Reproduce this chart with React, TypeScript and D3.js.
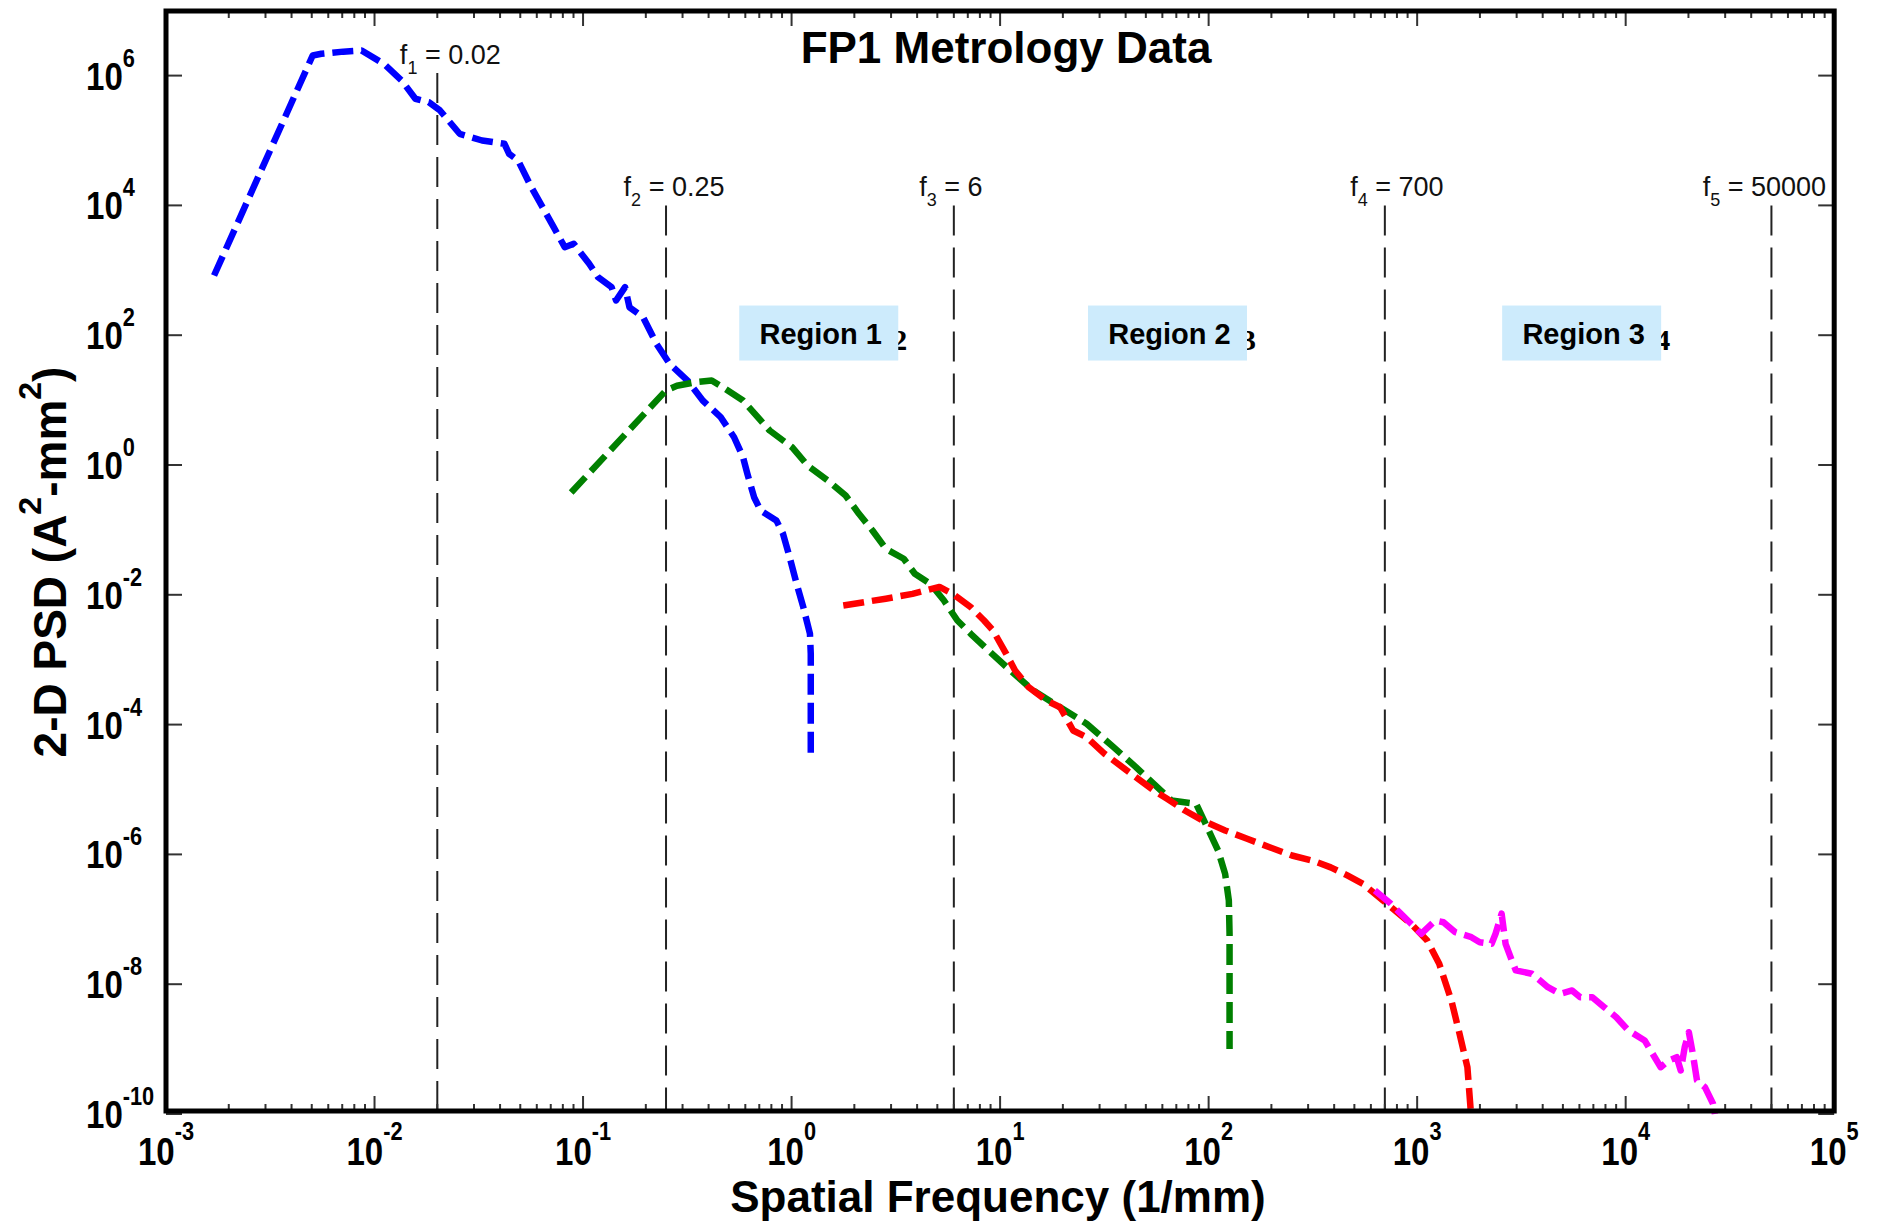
import React from 'react';
import * as d3 from 'd3';

const W = 1881;
const H = 1221;

// ---- axis ticks ----
const xTickValues = [1e-3, 1e-2, 1e-1, 1e0, 1e1, 1e2, 1e3, 1e4, 1e5];
const xTickExponents = ['-3', '-2', '-1', '0', '1', '2', '3', '4', '5'];
const yTickValues = [1e-10, 1e-8, 1e-6, 1e-4, 1e-2, 1e0, 1e2, 1e4, 1e6];
const yTickExponents = ['-10', '-8', '-6', '-4', '-2', '0', '2', '4', '6'];

// ---- series (spatial frequency 1/mm, PSD A^2-mm^2) ----
const blueFreq = [0.0017, 0.00505, 0.00556, 0.00708, 0.00867, 0.0111, 0.0135, 0.0157, 0.0182, 0.0206, 0.0256, 0.0328, 0.042, 0.0442, 0.0488, 0.0565, 0.0723, 0.0817, 0.0902, 0.107, 0.118, 0.137, 0.144, 0.159, 0.167, 0.194, 0.225, 0.26, 0.317, 0.375, 0.457, 0.53, 0.585, 0.614, 0.661, 0.711, 0.845, 0.91, 0.979, 1.057, 1.138, 1.225, 1.236, 1.236];
const bluePsd = [832, 2.04e6, 2.17e6, 2.34e6, 2.44e6, 1.51e6, 8.41e5, 4.4e5, 3.89e5, 2.9e5, 1.27e5, 1.0e5, 8.9e4, 6.24e4, 4.92e4, 1.91e4, 4620, 2270, 2560, 1260, 783, 550, 343, 550, 269, 189, 73.6, 36.3, 20, 9.86, 5.46, 2.68, 1.32, 0.731, 0.319, 0.199, 0.14, 0.0871, 0.0379, 0.0148, 0.00646, 0.00251, 0.00123, 3.55e-5];

const greenFreq = [0.0877, 0.25, 0.282, 0.348, 0.414, 0.468, 0.585, 0.785, 1.005, 1.194, 1.493, 1.816, 2.104, 2.443, 2.831, 3.451, 3.9, 4.63, 5.38, 6.24, 7.23, 8.79, 11.2, 14.4, 19.4, 26.0, 35.0, 44.8, 66.4, 87.1, 98.4, 111, 120, 125, 126, 126];
const greenPsd = [0.377, 14.1, 16.6, 18.9, 20, 15.8, 9.86, 3.4, 1.88, 0.982, 0.577, 0.339, 0.177, 0.098, 0.0512, 0.0359, 0.0211, 0.0148, 0.00817, 0.00402, 0.00251, 0.00139, 6.82e-4, 3.36e-4, 1.85e-4, 1.03e-4, 4.49e-5, 2.21e-5, 6.76e-6, 6.03e-6, 2.63e-6, 1.15e-6, 5.01e-7, 1.95e-7, 6.03e-8, 1.0e-9];

const redFreq = [1.77, 2.83, 3.8, 5.12, 5.93, 7.23, 8.38, 9.25, 10.7, 11.8, 13.7, 16.7, 19.4, 22.4, 26.0, 31.7, 40.6, 54.6, 63.2, 76.9, 93.5, 120, 153, 196, 251, 320, 385, 460, 550, 686, 935, 1117, 1276, 1459, 1596, 1742, 1807];
const redPsd = [0.00684, 0.00871, 0.01035, 0.0132, 0.01035, 0.00646, 0.00402, 0.00282, 0.00123, 6.82e-4, 3.77e-4, 2.35e-4, 1.85e-4, 8.11e-5, 6.4e-5, 3.55e-5, 1.96e-5, 9.66e-6, 7.19e-6, 4.75e-6, 3.33e-6, 2.34e-6, 1.74e-6, 1.29e-6, 9.62e-7, 7.9e-7, 6.31e-7, 4.8e-7, 3.52e-7, 1.95e-7, 8.51e-8, 4.71e-8, 2.06e-8, 5.62e-9, 1.74e-9, 5.25e-10, 1.12e-10];

const magentaFreq = [627, 748, 935, 1045, 1222, 1337, 1524, 1820, 1995, 2275, 2377, 2541, 2655, 2844, 2972, 3548, 3882, 4236, 4842, 5534, 6053, 6918, 7889, 9016, 10300, 12330, 13460, 14720, 16070, 17580, 18370, 19190, 20090, 20990, 21980, 23990, 26240, 26790];
const magentaPsd = [2.78e-7, 1.73e-7, 8.53e-8, 5.98e-8, 9.59e-8, 9.02e-8, 6.32e-8, 5.3e-8, 4.44e-8, 4.19e-8, 5.98e-8, 1.22e-7, 4.19e-8, 2.32e-8, 1.63e-8, 1.45e-8, 1.14e-8, 8.99e-9, 7.11e-9, 8.0e-9, 6.31e-9, 6.31e-9, 4.43e-9, 3.1e-9, 1.94e-9, 1.36e-9, 8.47e-10, 5.26e-10, 6.67e-10, 7.5e-10, 4.68e-10, 1.07e-9, 1.82e-9, 8.47e-10, 3.28e-10, 2.59e-10, 1.44e-10, 1.0e-10];

// ---- cutoff frequency markers ----
const cutoffFreq = [0.02, 0.25, 6, 700, 50000];
const cutoffIndex = ['1', '2', '3', '4', '5'];
const cutoffText = ['0.02', '0.25', '6', '700', '50000'];
const cutoffTop = [1.1e6, 1e4, 1e4, 1e4, 1e4];

// ---- region annotations ----
const regionNames = ['Region 1', 'Region 2', 'Region 3'];
const regionHidden = ['2', '3', '4'];
const regionFreq = [1.35, 63.5, 6150];
const regionPsd = [108, 108, 108];

const FONT = '"Liberation Sans", Arial, Helvetica, sans-serif';
const LABEL_SHIFT = [13, 8, -3, 12, -7];

export default function App() {
  const x = d3.scaleLog().domain([1e-3, 1e5]).range([166, 1834.2]);
  const y = d3.scaleLog().domain([1e-10, 1e7]).range([1114, 10.7]);

  const left = x(1e-3);
  const right = x(1e5);
  const top = 11;
  const bottom = 1111;

  const line = d3
    .line<[number, number]>()
    .x((d) => x(d[0]))
    .y((d) => y(d[1]));

  const series = [
    { f: blueFreq, p: bluePsd, color: '#0000ff' },
    { f: greenFreq, p: greenPsd, color: '#008000' },
    { f: redFreq, p: redPsd, color: '#ff0000' },
    { f: magentaFreq, p: magentaPsd, color: '#ff00ff' },
  ];

  const minorTicks: number[] = [];
  for (let e = -3; e < 5; e++) {
    for (let k = 2; k <= 9; k++) minorTicks.push(k * Math.pow(10, e));
  }

  const boxW = 159;
  const boxH = 55;

  return (
    <svg
      width={W}
      height={H}
      style={{ position: 'absolute', left: 0, top: 0, background: '#fff' }}
      fontFamily={FONT}
    >
      <rect x={0} y={0} width={W} height={H} fill="#fff" />

      {/* cutoff dashed lines */}
      {cutoffFreq.map((f, i) => (
        <line
          key={'cl' + i}
          x1={x(f)}
          x2={x(f)}
          y1={y(cutoffTop[i])}
          y2={bottom}
          stroke="#222"
          strokeWidth={2}
          strokeDasharray="30,12"
        />
      ))}
      {cutoffFreq.map((f, i) => (
        <text
          key={'ct' + i}
          x={x(f) + LABEL_SHIFT[i]}
          y={y(cutoffTop[i]) - 9}
          fontSize={27}
          textAnchor="middle"
          fill="#111"
        >
          f
          <tspan fontSize={18} dy={10}>
            {cutoffIndex[i]}
          </tspan>
          <tspan dy={-10}>{' = ' + cutoffText[i]}</tspan>
        </text>
      ))}

      {/* region boxes */}
      {regionNames.map((name, i) => {
        const cx = x(regionFreq[i]);
        const cy = y(regionPsd[i]);
        return (
          <g key={'rg' + i}>
            <text
              x={cx + boxW / 2 - 6}
              y={cy + 17}
              fontSize={30}
              fontWeight="bold"
              fontFamily='"Liberation Serif", serif'
              fill="#000"
            >
              {regionHidden[i]}
            </text>
            <rect x={cx - boxW / 2} y={cy - boxH / 2} width={boxW} height={boxH} fill="#cdebfc" />
            <text x={cx + 2} y={cy + 10.5} fontSize={29} fontWeight="bold" textAnchor="middle" fill="#000">
              {name}
            </text>
          </g>
        );
      })}

      {/* data series */}
      {series.map((s, i) => (
        <path
          key={'s' + i}
          d={line(s.f.map((f, j) => [f, s.p[j]] as [number, number])) || ''}
          fill="none"
          stroke={s.color}
          strokeWidth={6.5}
          strokeDasharray="21,8"
          strokeLinejoin="round"
        />
      ))}

      {/* ticks */}
      {xTickValues.map((v, i) => (
        <g key={'xt' + i}>
          <line x1={x(v)} x2={x(v)} y1={bottom} y2={bottom - 15} stroke="#333" strokeWidth={2} />
          <line x1={x(v)} x2={x(v)} y1={top} y2={top + 15} stroke="#333" strokeWidth={2} />
        </g>
      ))}
      {minorTicks.map((v, i) => (
        <g key={'xm' + i}>
          <line x1={x(v)} x2={x(v)} y1={bottom} y2={bottom - 7} stroke="#333" strokeWidth={2} />
          <line x1={x(v)} x2={x(v)} y1={top} y2={top + 7} stroke="#333" strokeWidth={2} />
        </g>
      ))}
      {yTickValues.map((v, i) => (
        <g key={'yt' + i}>
          <line x1={left} x2={left + 16} y1={y(v)} y2={y(v)} stroke="#333" strokeWidth={2} />
          <line x1={right} x2={right - 16} y1={y(v)} y2={y(v)} stroke="#333" strokeWidth={2} />
        </g>
      ))}

      {/* frame */}
      <rect x={left} y={top} width={right - left} height={bottom - top} fill="none" stroke="#000" strokeWidth={5} />

      {/* tick labels */}
      {xTickValues.map((v, i) => (
        <g key={'xl' + i} transform={`translate(${x(v)},1165) scale(0.87,1)`}>
          <text textAnchor="middle" fontSize={38} fontWeight="bold" fill="#000">
            10
            <tspan fontSize={25} dy={-25}>
              {xTickExponents[i]}
            </tspan>
          </text>
        </g>
      ))}
      {yTickValues.map((v, i) => (
        <g key={'yl' + i} transform={`translate(86,${y(v) + 14}) scale(0.87,1)`}>
          <text textAnchor="start" fontSize={38} fontWeight="bold" fill="#000">
            10
            <tspan fontSize={25} dy={-23}>
              {yTickExponents[i]}
            </tspan>
          </text>
        </g>
      ))}

      {/* titles */}
      <text x={1006} y={63} fontSize={44} fontWeight="bold" textAnchor="middle" fill="#000">
        FP1 Metrology Data
      </text>
      <text x={998} y={1212} fontSize={44} fontWeight="bold" textAnchor="middle" fill="#000">
        Spatial Frequency (1/mm)
      </text>
      <text transform="translate(66,562) rotate(-90)" fontSize={46} fontWeight="bold" textAnchor="middle" fill="#000">
        2-D PSD (A
        <tspan fontSize={32} dy={-25}>
          2
        </tspan>
        <tspan dy={25}>-mm</tspan>
        <tspan fontSize={32} dy={-25}>
          2
        </tspan>
        <tspan dy={25}>)</tspan>
      </text>
    </svg>
  );
}
